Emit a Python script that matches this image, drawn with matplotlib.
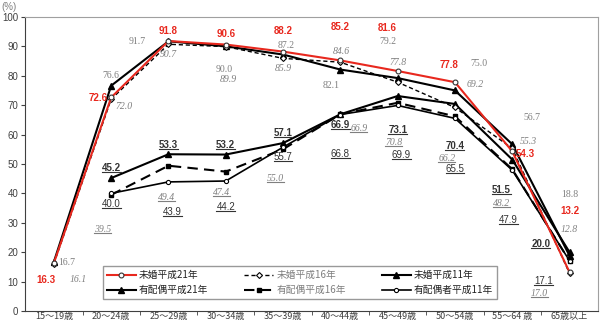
import numpy as np
import matplotlib.pyplot as plt
from matplotlib.lines import Line2D

plt.rcParams['font.family'] = ['Liberation Sans', 'Noto Sans CJK JP', 'DejaVu Sans']

ages = ["15～19歳", "20～24歳", "25～29歳", "30～34歳", "35～39歳",
        "40～44歳", "45～49歳", "50～54歳", "55～64 歳", "65歳以上"]

mikon_h21 = [16.3, 72.6, 91.8, 90.6, 88.2, 85.2, 81.6, 77.8, 54.3, 13.2]
mikon_h16 = [16.1, 72.0, 90.7, 89.9, 85.9, 84.6, 77.8, 69.2, 55.3, 12.8]
mikon_h11 = [16.7, 76.6, 91.7, 90.0, 87.2, 82.1, 79.2, 75.0, 56.7, 18.8]
haigu_h21 = [np.nan, 45.2, 53.3, 53.2, 57.1, 66.9, 73.1, 70.4, 51.5, 20.0]
haigu_h16 = [np.nan, 39.5, 49.4, 47.4, 55.0, 66.9, 70.8, 66.2, 48.2, 17.0]
haigu_h11 = [np.nan, 40.0, 43.9, 44.2, 55.7, 66.8, 69.9, 65.5, 47.9, 17.1]

names = ["未婚平成21年", "未婚平成16年", "未婚平成11年",
         "有配偶平成21年", "有配偶平成16年", "有配偶者平成11年"]

# data label offsets (category units, percent units) from each point
off_m21 = [(-0.13, -5.7), (-0.23, -0.1), (0, 3.4), (0, 3.6), (0, 7.1),
           (0, 11.4), (-0.18, 14.5), (-0.1, 5.9), (0.23, -0.9), (0, 20.9)]
off_m16 = [(0.42, -5.5), (0.22, -2.6), (0, -3.5), (0.05, -11.2), (0, -3.6),
           (0.02, 3.5), (0, 6.6), (0.36, 7.7), (0.28, 2.4), (0, 15.0)]
off_m11 = [(0.23, -0.2), (0, 3.5), (-0.55, -0.2), (-0.03, -8.0), (0.06, 3.2),
           (-0.16, -5.4), (-0.17, 12.3), (0.42, 9.0), (0.35, 9.0), (0, 20.7)]
off_h21 = [None, (0, 3.4), (0, 3.3), (0, 3.4), (0, 3.4), (0, -3.5),
           (0, -11.4), (0, -14.2), (-0.19, -10.3), (-0.5, 2.7)]
off_h16 = [None, (-0.15, -11.9), (-0.04, -10.8), (-0.08, -7.1), (-0.13, -9.8),
           (0.32, -4.7), (-0.07, -13.5), (-0.14, -14.4), (-0.19, -11.5), (-0.53, -11.2)]
off_h11 = [None, (0, -3.5), (0.07, -10.1), (0, -8.7), (0, -3.5), (0, -13.4),
           (0.06, -16.7), (0, -17.2), (-0.07, -16.9), (-0.45, -6.8)]

fig = plt.figure(figsize=(6, 3.25), dpi=100)
ax = fig.add_axes([0.042, 0.043, 0.955, 0.905])
x = np.arange(len(ages))

gray = '#7f7f7f'
dark = '#333333'
red = '#e8281e'

lines = {}
lines[3] = ax.plot(x, haigu_h21, color='black', lw=1.5, marker='^', ms=4,
                   label=names[3], zorder=3)[0]
lines[4] = ax.plot(x, haigu_h16, color='black', lw=1.5, dashes=(5, 3), marker='s',
                   ms=3, label=names[4], zorder=3)[0]
lines[5] = ax.plot(x, haigu_h11, color='black', lw=1.2, marker='o', ms=3,
                   mfc='white', mec='black', mew=0.8, label=names[5], zorder=3)[0]
lines[2] = ax.plot(x, mikon_h11, color='black', lw=1.5, marker='^', ms=4,
                   label=names[2], zorder=4)[0]
lines[1] = ax.plot(x, mikon_h16, color='black', lw=1.0, dashes=(3, 2), marker='D',
                   ms=3, mfc='white', mec='black', mew=0.8, label=names[1], zorder=4)[0]
lines[0] = ax.plot(x, mikon_h21, color=red, lw=1.5, marker='o', ms=3.5,
                   mfc='white', mec='#333333', mew=0.8, label=names[0], zorder=5)[0]

underlined = []


def put_labels(vals, offs, ul=False, **kw):
    for i, v in enumerate(vals):
        if offs[i] is None or np.isnan(v):
            continue
        dx, dy = offs[i]
        t = ax.text(i + dx, v + dy, f"{v:.1f}", ha='center', va='center',
                    fontsize=7, zorder=6, **kw)
        if ul:
            underlined.append(t)


put_labels(mikon_h21, off_m21, color=red, fontweight='bold')
put_labels(mikon_h16, off_m16, color=gray, family='Liberation Serif', style='italic')
put_labels(mikon_h11, off_m11, color=gray, family='Liberation Serif')
put_labels(haigu_h21, off_h21, ul=True, color=dark, fontweight='bold')
put_labels(haigu_h16, off_h16, ul=True, color=gray, family='Liberation Serif', style='italic')
put_labels(haigu_h11, off_h11, ul=True, color=dark)

ax.set_xlim(-0.5, 9.5)
ax.set_ylim(0, 100)
ax.set_yticks(range(0, 101, 10))
ax.tick_params(axis='y', labelsize=7, colors='#404040', length=3, pad=2)
ax.set_xticks(x)
ax.set_xticklabels(ages, fontsize=6.5, family='Noto Sans CJK JP', color='#404040')
ax.tick_params(axis='x', length=0, pad=1)
ax.set_xticks(np.arange(0.5, 9.5, 1), minor=True)
ax.tick_params(axis='x', which='minor', length=3, color='#404040')
for s in ['left', 'bottom']:
    ax.spines[s].set_color('#404040')
for s in ['top', 'right']:
    ax.spines[s].set_color('#a0a0a0')

fig.text(0.003, 0.995, "(%)", fontsize=7, color=gray, ha='left', va='top')

order = [0, 3, 1, 4, 2, 5]
leg = ax.legend([lines[k] for k in order], [names[k] for k in order], ncol=3,
                loc='lower left', bbox_to_anchor=(0.127, 0.024, 0.705, 0.122),
                mode='expand', frameon=True, fancybox=False,
                edgecolor='#808080', handlelength=3.0, handletextpad=0.3,
                borderpad=0.4, labelspacing=0.5, columnspacing=1.0,
                prop={'family': 'Noto Sans CJK JP', 'size': 7})
leg.get_frame().set_linewidth(1.0)
for k, t in zip(order, leg.get_texts()):
    t.set_color(gray if k in (1, 4) else '#222222')

# underline the 有配偶 data labels
fig.canvas.draw()
inv = fig.transFigure.inverted()
for t in underlined:
    bb = t.get_window_extent()
    (x0, y0), (x1, _) = inv.transform([(bb.x0, bb.y0 + 1), (bb.x1, bb.y0 + 1)])
    fig.add_artist(Line2D([x0, x1], [y0, y0], color=t.get_color(), lw=0.8,
                          transform=fig.transFigure))

fig.savefig("out.png", dpi=100)
